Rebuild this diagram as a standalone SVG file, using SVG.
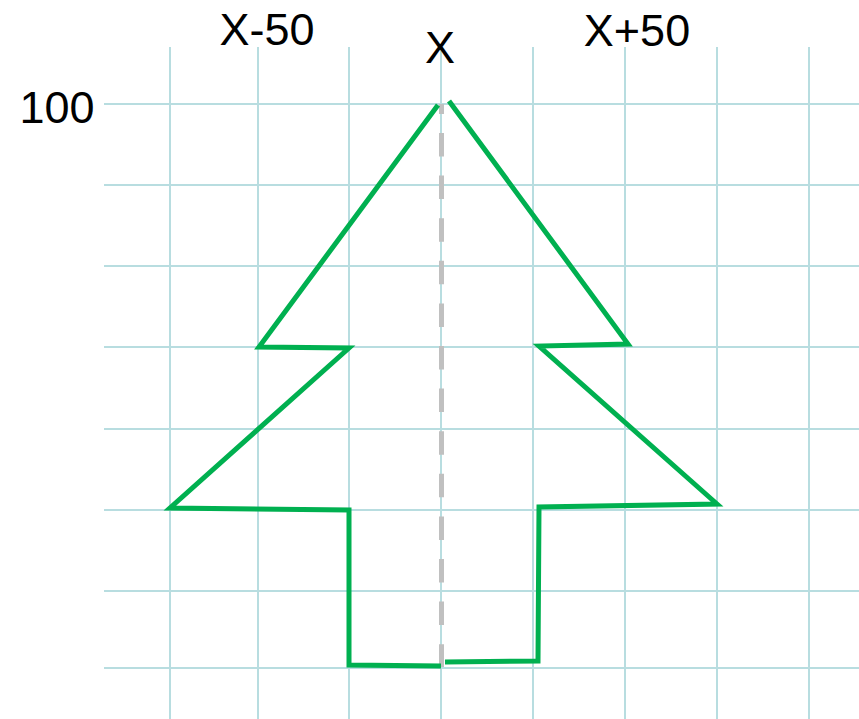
<svg xmlns="http://www.w3.org/2000/svg" width="859" height="719" viewBox="0 0 859 719">
<style>
.grid{stroke:#b8dde0;stroke-width:2;fill:none}
.lbl{font-family:"Liberation Sans",Arial,sans-serif;font-size:45px;fill:#000;text-anchor:middle}
.tree{stroke:#00b050;stroke-width:5;fill:none;stroke-linejoin:miter}
.axis{stroke:#c0c0c0;stroke-width:5;stroke-dasharray:23.5 19.1;stroke-dashoffset:13.6}
</style>
<rect width="859" height="719" fill="#fff"/>
<g id="grid" class="grid">
<line x1="170" y1="47" x2="170" y2="719"/>
<line x1="258" y1="47" x2="258" y2="719"/>
<line x1="349" y1="47" x2="349" y2="719"/>
<line x1="441" y1="47" x2="441" y2="719"/>
<line x1="533" y1="47" x2="533" y2="719"/>
<line x1="625" y1="47" x2="625" y2="719"/>
<line x1="717" y1="47" x2="717" y2="719"/>
<line x1="809" y1="47" x2="809" y2="719"/>
<line x1="104" y1="104" x2="859" y2="104"/>
<line x1="104" y1="185" x2="859" y2="185"/>
<line x1="104" y1="266" x2="859" y2="266"/>
<line x1="104" y1="347" x2="859" y2="347"/>
<line x1="104" y1="429" x2="859" y2="429"/>
<line x1="104" y1="510" x2="859" y2="510"/>
<line x1="104" y1="591" x2="859" y2="591"/>
<line x1="104" y1="668" x2="859" y2="668"/>
</g>
<g id="labels">
<text class="lbl" x="267" y="45">X-50</text>
<text class="lbl" x="637" y="46">X+50</text>
<text class="lbl" x="440" y="63">X</text>
<text class="lbl" x="57" y="123">100</text>
</g>
<g id="axis">
<line class="axis" x1="441.5" y1="104" x2="441.5" y2="667"/>
</g>
<g id="tree">
<polyline class="tree" points="438,105 259,347 349,348 170,508 349,510 349,665 441,666"/>
<polyline class="tree" points="445,662 538,661 539,507 717,504 539,346 628,344 449,101"/>
</g>
</svg>
